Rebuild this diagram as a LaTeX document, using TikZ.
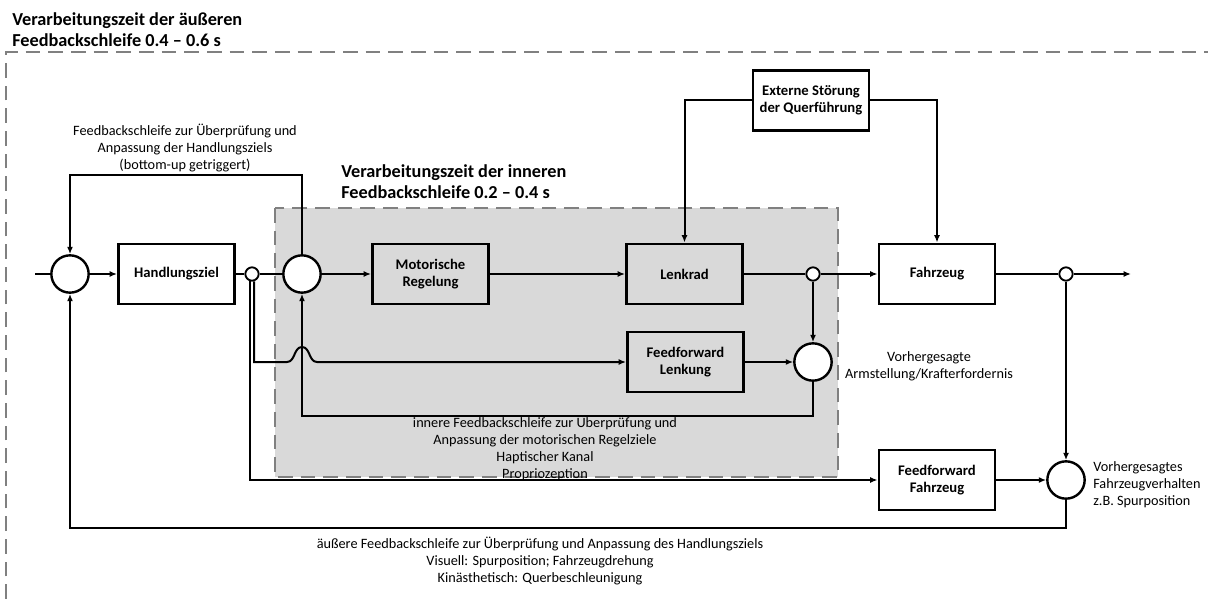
\documentclass[tikz,border=0pt]{standalone}
\usepackage{fontspec}
\setmainfont{Carlito}
\usetikzlibrary{arrows.meta,calc}
\definecolor{frameGray}{RGB}{128,128,128}
\definecolor{zoneGray}{RGB}{217,217,217}
\begin{document}
\begin{tikzpicture}[x=0.75pt,y=-0.75pt,
  conn/.style={line width=1.5pt},
  arr/.style={conn,-{Latex[length=5.5pt,width=4.5pt]}},
  blockbox/.style={draw,line width=2.2pt,minimum width=87pt,minimum height=45pt,
    align=center,inner sep=0pt,font=\fontsize{11}{13}\selectfont\bfseries},
  sumnode/.style={circle,draw,fill=white,line width=1.8pt,minimum size=28pt,inner sep=0pt},
  tapnode/.style={circle,draw,fill=white,line width=1.4pt,minimum size=10pt,inner sep=0pt},
  note/.style={align=center,inner sep=0pt,font=\fontsize{10.7}{12.75}\selectfont},
  heading/.style={align=left,anchor=west,inner sep=0pt,font=\fontsize{13.7}{15.75}\selectfont\bfseries},
  zoneframe/.style={draw=frameGray,line width=2pt,dash pattern=on 11pt off 6pt}
]
\useasboundingbox (0,0) rectangle (1208,599);

% outer processing zone (open towards right and bottom)
\draw[zoneframe,line width=2.2pt] (6,599) -- (6,52) -- (1208,52);
\node[heading] (titleOuter) at (12,29.5) {Verarbeitungszeit der äußeren\\Feedbackschleife 0.4 – 0.6 s};

% inner processing zone
\fill[zoneGray] (275,208) rectangle (838,477);
\draw[zoneframe] (275,208) rectangle (838,477);
\node[heading] (titleInner) at (341,182) {Verarbeitungszeit der inneren\\Feedbackschleife 0.2 – 0.4 s};

% blocks
\node[blockbox,fill=white]    (hz)  at (176.5,274) {Handlungsziel};
\node[blockbox,fill=zoneGray] (mr)  at (430.5,274) {Motorische\\Regelung};
\node[blockbox,fill=zoneGray] (lk)  at (684.5,274) {Lenkrad};
\node[blockbox,fill=white]    (fz)  at (937,274)   {Fahrzeug};
\node[blockbox,fill=white]    (ext) at (811,100.5) {Externe Störung\\der Querführung};
\node[blockbox,fill=zoneGray] (ffl) at (685.5,362) {Feedforward\\Lenkung};
\node[blockbox,fill=white]    (ffF) at (937,480)   {Feedforward\\Fahrzeug};

% summation points and branch points
\node[sumnode] (c1) at (70,274) {};
\node[tapnode] (a)  at (252,274) {};
\node[sumnode] (c2) at (302,274) {};
\node[tapnode] (b)  at (813,274) {};
\node[sumnode] (c3) at (813,362) {};
\node[tapnode] (c)  at (1066,274) {};
\node[sumnode] (c4) at (1066,480) {};

% free ends and loop corners
\coordinate (in)      at (35,274);
\coordinate (out)     at (1131,274);
\coordinate (topfb)   at (302,175);
\coordinate (innerfb) at (302,416);
\coordinate (outerfb) at (70,528);
\coordinate (hopL) at ($(c2.center |- ffl.west)+(-15,0)$);
\coordinate (hopT) at ($(c2.center |- ffl.west)+(0,-15)$);
\coordinate (hopR) at ($(c2.center |- ffl.west)+(15,0)$);

% forward path
\draw[conn] (in) -- (c1);
\draw[arr]  (c1) -- (hz);
\draw[conn] (hz) -- (a);
\draw[conn] (a) -- (c2);
\draw[arr]  (c2) -- (mr);
\draw[arr]  (mr) -- (lk);
\draw[conn] (lk) -- (b);
\draw[arr]  (b) -- (fz);
\draw[conn] (fz) -- (c);
\draw[arr]  (c) -- (out);

% disturbance
\draw[arr] (ext.west) -| (lk.north);
\draw[arr] (ext.east) -| (fz.north);

% feedforward branches
\draw[arr] (a.-73) |- (hopL) to[out=0,in=180] (hopT) to[out=0,in=180] (hopR) -- (ffl.west);
\draw[arr] (a.-107) |- (ffF.west);
\draw[arr] (ffl) -- (c3);
\draw[arr] (b) -- (c3);
\draw[arr] (ffF) -- (c4);
\draw[arr] (c) -- (c4);

% feedback loops
\draw[arr] (c2.north) -- (topfb) -| (c1.north);
\draw[arr] (c3.south) |- (innerfb) -- (c2.south);
\draw[arr] (c4.south) |- (outerfb) -- (c1.south);

% annotations
\node[note] (lblTop) at (185,148) {Feedbackschleife zur Überprüfung und\\Anpassung der Handlungsziels\\(bottom-up getriggert)};
\node[note] (lblInner) at (545,448) {innere Feedbackschleife zur Überprüfung und\\Anpassung der motorischen Regelziele\\Haptischer Kanal\\Propriozeption};
\node[note] (lblArm) at (929,366) {Vorhergesagte\\Armstellung/Krafterfordernis};
\node[note,align=left,anchor=west] (lblVeh) at (1093,485) {Vorhergesagtes\\Fahrzeugverhalten\\z.B. Spurposition};
\node[note] (lblOuter) at (540,561) {äußere Feedbackschleife zur Überprüfung und Anpassung des Handlungsziels\\Visuell: Spurposition; Fahrzeugdrehung\\Kinästhetisch: Querbeschleunigung};
\end{tikzpicture}
\end{document}
